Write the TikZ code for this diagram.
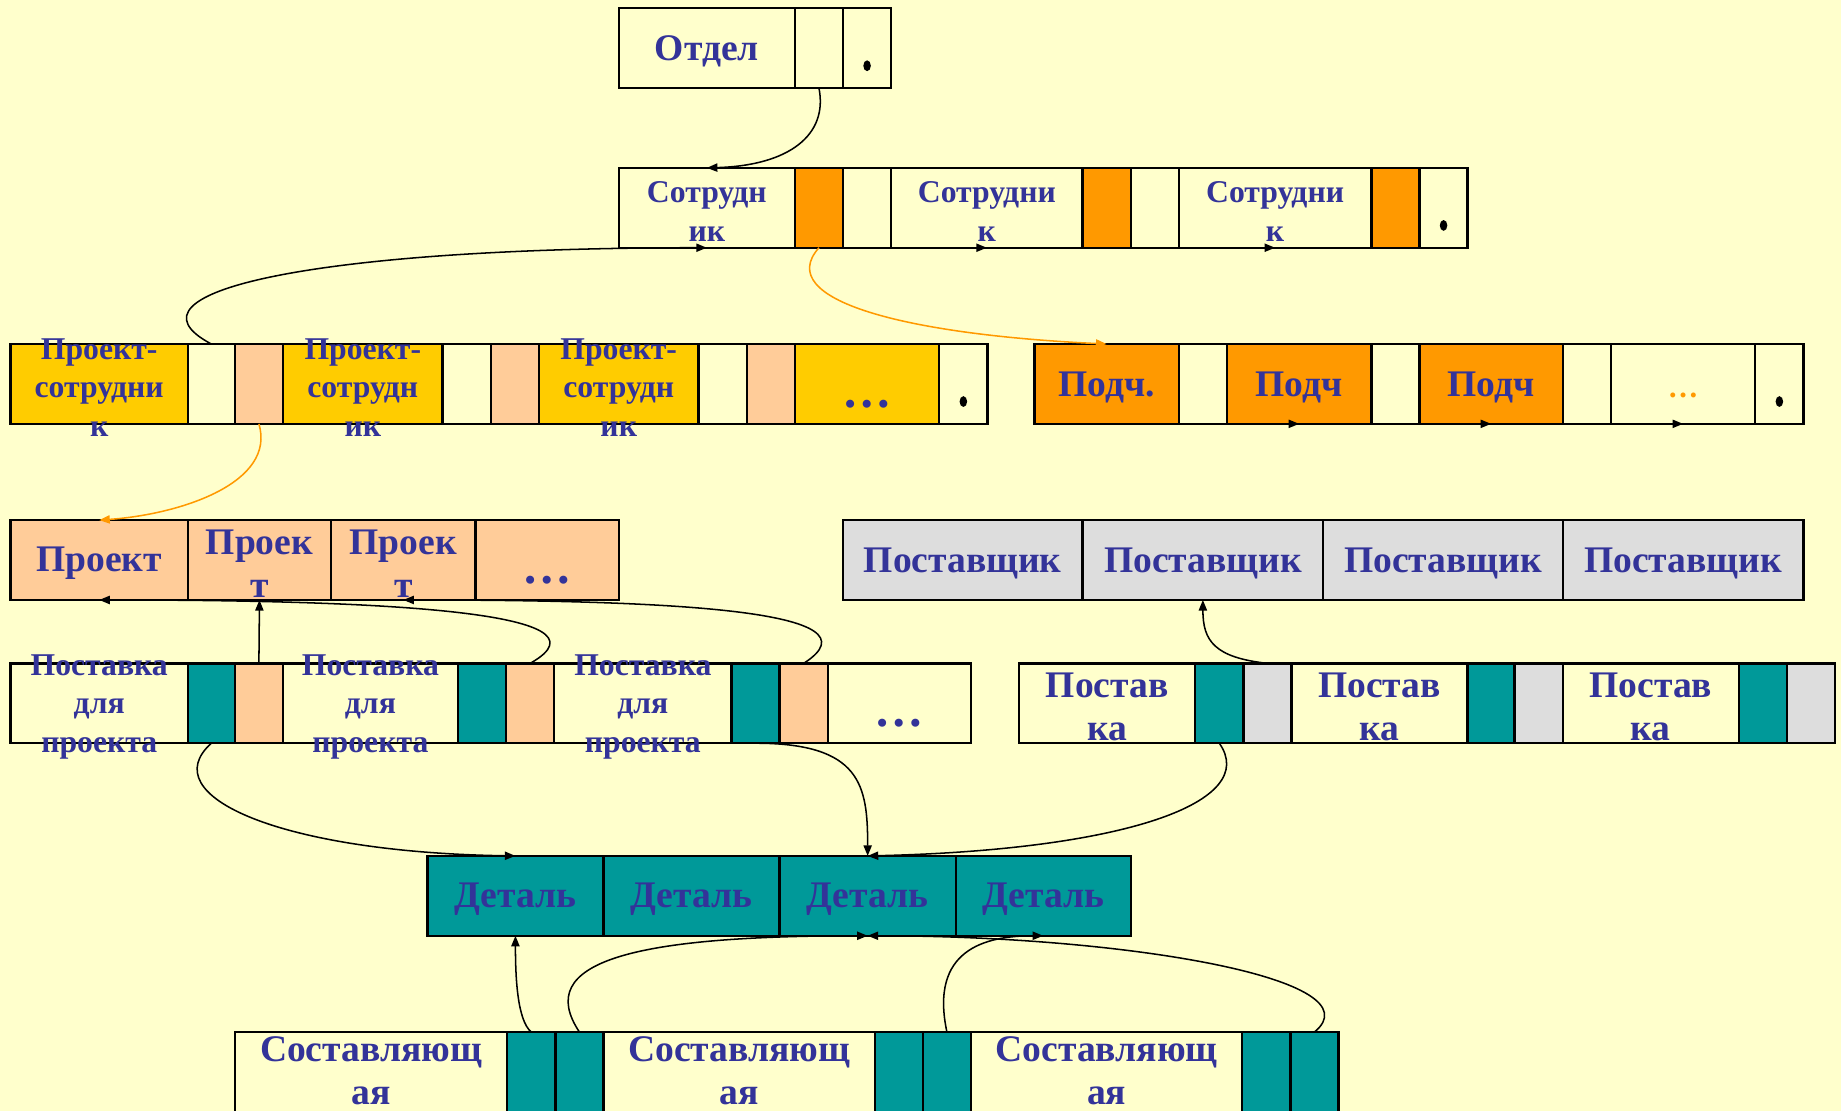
\documentclass[tikz,border=0pt]{standalone}
\usepackage{fontspec}
\setmainfont{Liberation Serif}
\usepackage{xcolor}
\usetikzlibrary{arrows.meta}
\usetikzlibrary{positioning}

\definecolor{bgyellow}{HTML}{FFFFCC}
\definecolor{cgold}{HTML}{FFCC00}
\definecolor{corange}{HTML}{FF9900}
\definecolor{cpeach}{HTML}{FFCC99}
\definecolor{cteal}{HTML}{009999}
\definecolor{cgrey}{HTML}{DDDDDD}
\definecolor{textblue}{HTML}{333399}

\tikzstyle{cell}=[draw, line width=1pt, inner sep=0pt, outer sep=0pt, minimum height=34pt, anchor=north west, fill=bgyellow]
\tikzstyle{nar}=[cell, minimum width=20.5pt]
\tikzstyle{bigtext}=[font=\fontsize{16}{18.5}\selectfont\bfseries, text=textblue, align=center, inner sep=0pt, yshift=-1.5pt]
\tikzstyle{smalltext}=[font=\fontsize{13.5}{16.5}\selectfont\bfseries, text=textblue, align=center, inner sep=0pt, yshift=-1.5pt]
\tikzstyle{ptr}=[line width=.65pt, -{Triangle[length=4.5pt,width=3.5pt]}]
\tikzstyle{optr}=[ptr, draw=corange]
\tikzset{
  txt/.style={label={[bigtext]center:{#1}}},
  stxt/.style={label={[smalltext]center:{#1}}},
  htxt/.style={label={[bigtext, yshift=2pt]center:{#1}}},
  more/.style={label={[bigtext, font=\fontsize{21}{23}\selectfont\bfseries, yshift=-7pt]center:\dots}},
}
\newcommand\lastdot[1]{\fill ([yshift=-7.5pt]#1.center) ellipse (1.6pt and 2.3pt);}

\begin{document}
\begin{tikzpicture}[x=.5pt, y=-.5pt]
  \clip (0,0) rectangle (1568,946);
  \fill[bgyellow] (0,0) rectangle (1568,946);

  % department
  \node[cell, minimum width=75pt, txt={Отдел}] (otdel) at (527,7) {};
  \node[nar, right=0pt of otdel] (otdel-p) {};
  \node[nar, right=0pt of otdel-p] (otdel-e) {};
  \lastdot{otdel-e}

  % employees
  \node[cell, minimum width=75pt, stxt={Сотрудн\\ик}] (s1) at (527,143) {};
  \node[nar, fill=corange, right=0pt of s1] (s1-o) {};
  \node[nar, right=0pt of s1-o] (s1-p) {};
  \node[cell, minimum width=81.5pt, stxt={Сотрудни\\к}, right=0pt of s1-p] (s2) {};
  \node[nar, fill=corange, right=0pt of s2] (s2-o) {};
  \node[nar, right=0pt of s2-o] (s2-p) {};
  \node[cell, minimum width=82pt, stxt={Сотрудни\\к}, right=0pt of s2-p] (s3) {};
  \node[nar, fill=corange, right=0pt of s3] (s3-o) {};
  \node[nar, right=0pt of s3-o] (s3-e) {};
  \lastdot{s3-e}

  % project-employee links
  \node[cell, fill=cgold, minimum width=75.5pt, stxt={Проект-\\сотрудни\\к}] (ps1) at (9,293) {};
  \node[nar, right=0pt of ps1, minimum width=20pt] (ps1-p) {};
  \node[nar, fill=cpeach, right=0pt of ps1-p] (ps1-q) {};
  \node[cell, fill=cgold, minimum width=68pt, stxt={Проект-\\сотрудн\\ик}, right=0pt of ps1-q] (ps2) {};
  \node[nar, right=0pt of ps2] (ps2-p) {};
  \node[nar, fill=cpeach, right=0pt of ps2-p] (ps2-q) {};
  \node[cell, fill=cgold, minimum width=68pt, stxt={Проект-\\сотрудн\\ик}, right=0pt of ps2-q] (ps3) {};
  \node[nar, right=0pt of ps3] (ps3-p) {};
  \node[nar, fill=cpeach, right=0pt of ps3-p] (ps3-q) {};
  \node[cell, fill=cgold, minimum width=61.5pt, more, right=0pt of ps3-q] (psd) {};
  \node[nar, right=0pt of psd] (ps-e) {};
  \lastdot{ps-e}

  % subordinates
  \node[cell, fill=corange, minimum width=61.5pt, txt={Подч.}] (pd1) at (881,293) {};
  \node[nar, right=0pt of pd1] (pd1-p) {};
  \node[cell, fill=corange, minimum width=61.5pt, txt={Подч}, right=0pt of pd1-p] (pd2) {};
  \node[nar, right=0pt of pd2] (pd2-p) {};
  \node[cell, fill=corange, minimum width=61pt, txt={Подч}, right=0pt of pd2-p] (pd3) {};
  \node[nar, right=0pt of pd3] (pd3-p) {};
  \node[cell, minimum width=61.5pt, right=0pt of pd3-p,
        label={[bigtext, text=corange, font=\fontsize{13}{15}\selectfont\bfseries, yshift=-3.5pt]center:\dots}] (pdd) {};
  \node[nar, right=0pt of pdd] (pd-e) {};
  \lastdot{pd-e}

  % projects
  \node[cell, fill=cpeach, minimum width=75.5pt, txt={Проект}] (pr1) at (9,443) {};
  \node[cell, fill=cpeach, minimum width=61pt, txt={Проек\\т}, right=0pt of pr1] (pr2) {};
  \node[cell, fill=cpeach, minimum width=61.5pt, txt={Проек\\т}, right=0pt of pr2] (pr3) {};
  \node[cell, fill=cpeach, minimum width=61pt, more, right=0pt of pr3] (prd) {};

  % suppliers
  \node[cell, fill=cgrey, minimum width=102pt, txt={Поставщик}] (sup1) at (718,443) {};
  \node[cell, fill=cgrey, minimum width=102.5pt, txt={Поставщик}, right=0pt of sup1] (sup2) {};
  \node[cell, fill=cgrey, minimum width=102pt, txt={Поставщик}, right=0pt of sup2] (sup3) {};
  \node[cell, fill=cgrey, minimum width=102.5pt, txt={Поставщик}, right=0pt of sup3] (sup4) {};

  % deliveries for projects
  \node[cell, minimum width=75.5pt, stxt={Поставка\\для\\проекта}] (pp1) at (9,565) {};
  \node[nar, fill=cteal, minimum width=20pt, right=0pt of pp1] (pp1-d) {};
  \node[nar, fill=cpeach, right=0pt of pp1-d] (pp1-p) {};
  \node[cell, minimum width=74.5pt, stxt={Поставка\\для\\проекта}, right=0pt of pp1-p] (pp2) {};
  \node[nar, fill=cteal, right=0pt of pp2] (pp2-d) {};
  \node[nar, fill=cpeach, right=0pt of pp2-d] (pp2-p) {};
  \node[cell, minimum width=75.5pt, stxt={Поставка\\для\\проекта}, right=0pt of pp2-p] (pp3) {};
  \node[nar, fill=cteal, right=0pt of pp3] (pp3-d) {};
  \node[nar, fill=cpeach, right=0pt of pp3-d] (pp3-p) {};
  \node[cell, minimum width=61pt, more, right=0pt of pp3-p] (ppd) {};

  % supplies
  \node[cell, minimum width=75pt, txt={Постав\\ка}] (sp1) at (868,565) {};
  \node[nar, fill=cteal, right=0pt of sp1] (sp1-d) {};
  \node[nar, fill=cgrey, right=0pt of sp1-d] (sp1-p) {};
  \node[cell, minimum width=75pt, txt={Постав\\ка}, right=0pt of sp1-p] (sp2) {};
  \node[nar, fill=cteal, minimum width=20pt, right=0pt of sp2] (sp2-d) {};
  \node[nar, fill=cgrey, right=0pt of sp2-d] (sp2-p) {};
  \node[cell, minimum width=75pt, txt={Постав\\ка}, right=0pt of sp2-p] (sp3) {};
  \node[nar, fill=cteal, right=0pt of sp3] (sp3-d) {};
  \node[nar, fill=cgrey, right=0pt of sp3-d] (sp3-p) {};

  % parts
  \node[cell, fill=cteal, minimum width=75pt, txt={Деталь}] (det1) at (364,729) {};
  \node[cell, fill=cteal, minimum width=75pt, txt={Деталь}, right=0pt of det1] (det2) {};
  \node[cell, fill=cteal, minimum width=75pt, txt={Деталь}, right=0pt of det2] (det3) {};
  \node[cell, fill=cteal, minimum width=74.5pt, txt={Деталь}, right=0pt of det3] (det4) {};

  % components
  \node[cell, minimum width=116pt, htxt={Составляющ\\ая}] (sk1) at (200,879) {};
  \node[nar, fill=cteal, right=0pt of sk1] (sk1-d) {};
  \node[nar, fill=cteal, right=0pt of sk1-d] (sk1-p) {};
  \node[cell, minimum width=115.5pt, htxt={Составляющ\\ая}, right=0pt of sk1-p] (sk2) {};
  \node[nar, fill=cteal, right=0pt of sk2] (sk2-d) {};
  \node[nar, fill=cteal, right=0pt of sk2-d] (sk2-p) {};
  \node[cell, minimum width=115.5pt, htxt={Составляющ\\ая}, right=0pt of sk2-p] (sk3) {};
  \node[nar, fill=cteal, right=0pt of sk3] (sk3-d) {};
  \node[nar, fill=cteal, right=0pt of sk3-d] (sk3-p) {};

  % pointers
  \draw[ptr] (otdel-p.south) .. controls +(8,40) and +(70,-2) .. (s1.north);
  \draw[ptr] (s1-p.south) -- (s2.south);
  \draw[ptr] (s2-p.south) -- (s3.south);
  \draw[ptr] (ps1-p.north) .. controls +(-85,-45) and +(-330,0) .. (s1.south);
  \draw[optr] (s1-o.south) .. controls +(-40,45) and +(-170,-8) .. (pd1.north);
  \draw[ptr] (pd1-p.south) -- (pd2.south);
  \draw[ptr] (pd2-p.south) -- (pd3.south);
  \draw[ptr] (pd3-p.south) -- (pdd.south);
  \draw[optr] (ps1-q.south) .. controls +(15,50) and +(70,-5) .. (pr1.north);

  \draw[ptr] (pp1-p.north) -- (pr2.south);
  \draw[ptr] (pp2-p.north) .. controls +(80,-45) and +(230,0) .. (pr1.south);
  \draw[ptr] (pp3-p.north) .. controls +(70,-45) and +(230,0) .. (pr3.south);
  \draw[ptr] (sp1-p.north) .. controls +(-45,-5) and +(0,35) .. (sup2.south);

  \draw[ptr] (pp1-d.south) .. controls +(-50,45) and +(-200,-3) .. (det1.north);
  \draw[ptr] (pp3-d.south) .. controls +(90,0) and +(0,-60) .. (det3.north);
  \draw[ptr] (sp1-d.south) .. controls +(35,50) and +(220,-5) .. (det3.north);

  \draw[ptr] (sk1-d.north) .. controls +(-12,-10) and +(0,35) .. (det1.south);
  \draw[ptr] (sk1-p.north) .. controls +(-40,-60) and +(-200,0) .. (det3.south);
  \draw[ptr] (sk2-p.north) .. controls +(-15,-70) and +(-50,0) .. (det4.south);
  \draw[ptr] (sk3-p.north) .. controls +(55,-45) and +(220,0) .. (det3.south);
\end{tikzpicture}
\end{document}
